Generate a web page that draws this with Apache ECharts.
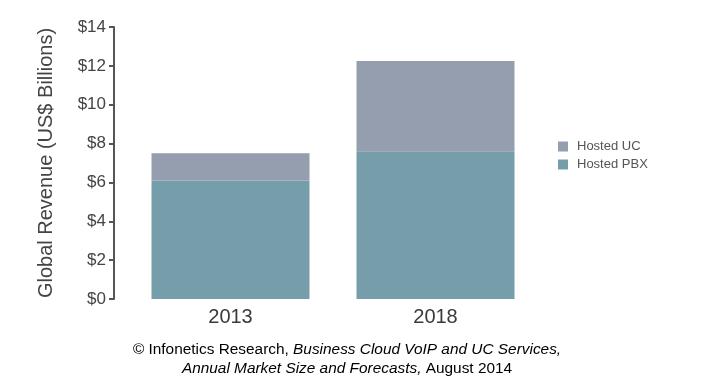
<!DOCTYPE html>
<html><head><meta charset="utf-8">
<script src="https://cdn.jsdelivr.net/npm/echarts@6/dist/echarts.min.js"></script>
<style>html,body{margin:0;padding:0;background:#fff}#c{width:701px;height:392px}</style>
</head><body><div id="c"></div>
<script>
const categories = ['2013', '2018'];
const hostedPBX = [6.1, 7.6];
const hostedUC = [1.4, 4.65];
const yTicks = [0, 2, 4, 6, 8, 10, 12, 14];

const chart = echarts.init(document.getElementById('c'));
const F = '"Liberation Sans", Arial, sans-serif';
const rich = {
  n: { fontFamily: F, fontSize: 15.4, color: '#3a3a3a', fontWeight: 'normal' },
  i: { fontFamily: F, fontSize: 15.4, color: '#3a3a3a', fontStyle: 'italic', fontWeight: 'normal' }
};
chart.setOption({
  animation: false,
  textStyle: { fontFamily: F },
  graphic: [
    { type: 'text', x: 347, y: 350,
      style: { text: '{n|© Infonetics Research, }{i|Business Cloud VoIP and UC Services,}', rich: rich,
        align: 'center', verticalAlign: 'middle' } },
    { type: 'text', x: 347, y: 369,
      style: { text: '{i|Annual Market Size and Forecasts,}{n| August 2014}', rich: rich,
        align: 'center', verticalAlign: 'middle' } }
  ],
  legend: {
    orient: 'vertical', left: 553, top: 135,
    itemWidth: 10, itemHeight: 10, itemGap: 5,
    data: ['Hosted UC', 'Hosted PBX'],
    textStyle: { fontFamily: F, fontSize: 13, color: '#555', padding: [0, 0, 0, 4] },
    icon: 'rect'
  },
  grid: { left: 128, right: 163, top: 27, bottom: 93 },
  xAxis: {
    type: 'category', data: categories,
    axisLine: { show: false }, axisTick: { show: false },
    axisLabel: { fontFamily: F, fontSize: 20, color: '#3a3a3a', margin: 8 }
  },
  yAxis: {
    type: 'value', min: yTicks[0], max: yTicks[yTicks.length - 1], interval: 2,
    offset: 14,
    name: 'Global Revenue (US$ Billions)', nameLocation: 'middle', nameGap: 58,
    nameTextStyle: { fontFamily: F, fontSize: 20, color: '#444' },
    axisLine: { show: true, lineStyle: { color: '#555', width: 2 } },
    axisTick: { show: true, length: 5, lineStyle: { color: '#555', width: 2 } },
    splitLine: { show: false },
    axisLabel: { fontFamily: F, fontSize: 17, color: '#444', margin: 8, formatter: v => '$' + v }
  },
  series: [
    { name: 'Hosted PBX', type: 'bar', stack: 'a', data: hostedPBX, barWidth: 158,
      itemStyle: { color: '#769DAA' } },
    { name: 'Hosted UC', type: 'bar', stack: 'a', data: hostedUC, barWidth: 158,
      itemStyle: { color: '#949EAF' } }
  ]
});
</script></body></html>
